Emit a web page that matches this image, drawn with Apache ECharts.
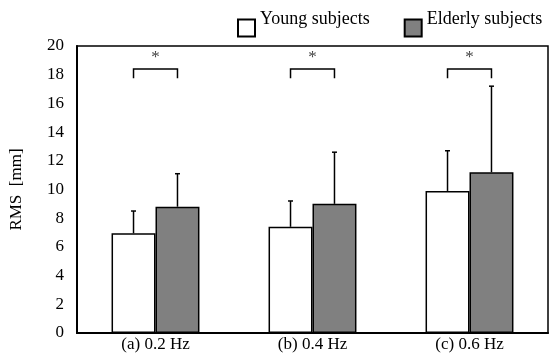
<!DOCTYPE html>
<html>
<head>
<meta charset="utf-8">
<script src="https://cdn.jsdelivr.net/npm/echarts@6/dist/echarts.min.js"></script>
<style>
    html, body {margin: 0; padding: 0; background: #fff;}
    #main {width: 550px; height: 357px;}
</style>
</head>
<body>
<div id="main"></div>
<script>
// 数据
var aCategories = ['(a) 0.2 Hz', '(b) 0.4 Hz', '(c) 0.6 Hz'];
var aYoung = [6.95, 7.4, 9.9];
var aYoungSD = [1.55, 1.8, 2.8];
var aElderly = [8.8, 9.0, 11.2];
var aElderlySD = [2.3, 3.6, 6.0];
// 显著性标记: 括号高度, 括号两端下沿, 星号高度
var aSigLevel = [18.4, 18.4, 18.4];
var aSigFoot = [17.75, 17.75, 17.75];
var aSigStar = [19.2, 19.2, 19.2];

var sFont = '"Liberation Serif", "DejaVu Serif", serif';
var fBarRate = 0.28; // 柱宽占类目宽度的比例

// 误差线: 只画向上的一半
function ErrorBar(aMean, aSD, iSide) {
    var aData = [];
    for (var i = 0; i < aMean.length; i++) {
        aData.push([i, aMean[i], aMean[i] + aSD[i]]);
    }
    return {
        type: 'custom',
        z: 5,
        data: aData,
        renderItem: function (params, api) {
            var pLow = api.coord([api.value(0), api.value(1)]);
            var pHigh = api.coord([api.value(0), api.value(2)]);
            var iBand = api.size([1, 0])[0];
            var x = pLow[0] + iSide * iBand * fBarRate / 2;
            var style = {stroke: '#000', lineWidth: 1.5};
            return {
                type: 'group',
                children: [
                    {type: 'line', shape: {x1: x, y1: pLow[1], x2: x, y2: pHigh[1]}, style: style},
                    {type: 'line', shape: {x1: x - 2.5, y1: pHigh[1], x2: x + 2.5, y2: pHigh[1]}, style: style}
                ]
            };
        }
    };
}

// 显著性括号和星号
function SigMark() {
    var aData = [];
    for (var i = 0; i < aCategories.length; i++) {
        aData.push([i, aSigLevel[i], aSigFoot[i], aSigStar[i]]);
    }
    return {
        type: 'custom',
        z: 5,
        data: aData,
        renderItem: function (params, api) {
            var pTop = api.coord([api.value(0), api.value(1)]);
            var pFoot = api.coord([api.value(0), api.value(2)]);
            var pStar = api.coord([api.value(0), api.value(3)]);
            var iHalf = api.size([1, 0])[0] * fBarRate / 2;
            var x1 = pTop[0] - iHalf, x2 = pTop[0] + iHalf;
            return {
                type: 'group',
                children: [
                    {
                        type: 'polyline',
                        shape: {points: [[x1, pFoot[1]], [x1, pTop[1]], [x2, pTop[1]], [x2, pFoot[1]]]},
                        style: {stroke: '#000', lineWidth: 1.5, fill: null}
                    },
                    {
                        type: 'text',
                        x: pStar[0], y: pStar[1],
                        style: {text: '*', font: '17px ' + sFont, fill: '#444', align: 'center', verticalAlign: 'middle'}
                    }
                ]
            };
        }
    };
}

var jOption = {
    animation: false,
    textStyle: {fontFamily: sFont, color: '#000'},
    legend: {
        left: 232,
        top: 5,
        itemWidth: 17,
        itemHeight: 17,
        itemGap: 34,
        icon: 'rect',
        formatter: '{t|{name}}', // 文字比图例方块略高
        textStyle: {
            fontFamily: sFont, fontSize: 18, color: '#000',
            rich: {t: {fontFamily: sFont, fontSize: 18, color: '#000', padding: [0, 0, 18, 0]}}
        },
        data: ['Young subjects', 'Elderly subjects']
    },
    grid: {
        left: 76, right: 2, top: 46, bottom: 24,
        show: true, borderColor: '#000', borderWidth: 1.5
    },
    xAxis: {
        type: 'category',
        data: aCategories,
        axisLine: {lineStyle: {color: '#000', width: 2}},
        axisTick: {show: false},
        axisLabel: {fontFamily: sFont, fontSize: 17, color: '#000', margin: 3}
    },
    yAxis: {
        type: 'value',
        min: 0, max: 20, interval: 2,
        name: 'RMS  [mm]',
        nameLocation: 'middle',
        nameGap: 52,
        nameTextStyle: {fontFamily: sFont, fontSize: 17, color: '#000'},
        axisLine: {show: true, lineStyle: {color: '#000', width: 2}},
        axisTick: {show: false},
        splitLine: {show: false},
        axisLabel: {fontFamily: sFont, fontSize: 17, color: '#000', margin: 13}
    },
    series: [
        {
            name: 'Young subjects',
            type: 'bar',
            data: aYoung,
            barWidth: (fBarRate * 100) + '%',
            barGap: '0%',
            itemStyle: {color: '#fff', borderColor: '#000', borderWidth: 1.5}
        },
        {
            name: 'Elderly subjects',
            type: 'bar',
            data: aElderly,
            barWidth: (fBarRate * 100) + '%',
            barGap: '0%',
            itemStyle: {color: '#808080', borderColor: '#000', borderWidth: 1.5}
        },
        ErrorBar(aYoung, aYoungSD, -1),
        ErrorBar(aElderly, aElderlySD, 1),
        SigMark()
    ]
};

var myChart = echarts.init(document.getElementById('main'));
myChart.setOption(jOption);
</script>
</body>
</html>
